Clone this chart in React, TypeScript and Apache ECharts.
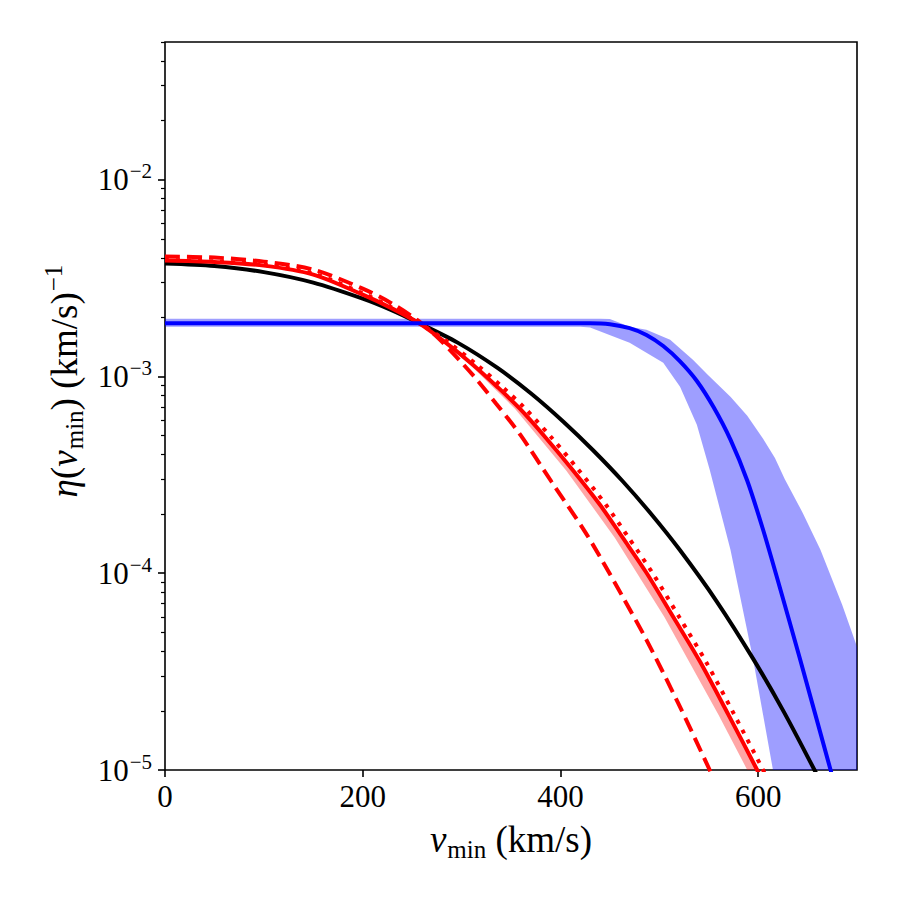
import React, { useEffect, useRef } from "react";
import * as echarts from "echarts";

// ---- axis ticks ----
const xTicks = [0, 200, 400, 600];
const yTicks = [1e-5, 1e-4, 1e-3, 1e-2];
const yMinorTicks = [
  2e-5, 3e-5, 4e-5, 5e-5, 6e-5, 7e-5, 8e-5, 9e-5,
  2e-4, 3e-4, 4e-4, 5e-4, 6e-4, 7e-4, 8e-4, 9e-4,
  2e-3, 3e-3, 4e-3, 5e-3, 6e-3, 7e-3, 8e-3, 9e-3,
  2e-2, 3e-2, 4e-2, 5e-2,
];

// ---- black solid ----
const blackV = [0, 50, 100, 150, 200, 228, 256, 296, 336, 370, 403, 433, 463, 492, 521, 558, 595, 626, 657, 670];
const blackEta = [3.741e-3, 3.633e-3, 3.386e-3, 2.995e-3, 2.483e-3, 2.183e-3, 1.875e-3, 1.484e-3, 1.107e-3, 8.21e-4, 5.885e-4, 4.215e-4, 2.932e-4, 1.993e-4, 1.307e-4, 7.2e-5, 3.671e-5, 1.974e-5, 1.0e-5, 7.47e-6];

// ---- red dashed ----
const redDashV = [0, 50, 100, 150, 200, 228, 256, 278, 312, 335, 359, 391, 423, 440, 463, 487, 519, 551, 565];
const redDashEta = [4.061e-3, 4.014e-3, 3.829e-3, 3.486e-3, 2.792e-3, 2.369e-3, 1.919e-3, 1.537e-3, 1.008e-3, 7.265e-4, 5.083e-4, 2.915e-4, 1.681e-4, 1.212e-4, 7.586e-5, 4.585e-5, 2.193e-5, 1.0e-5, 7.05e-6];

// ---- red solid ----
const redV = [0, 50, 100, 150, 200, 228, 256, 284, 312, 336, 359, 386, 413, 440, 463, 487, 514, 541, 570, 599, 612];
const redEta = [3.875e-3, 3.808e-3, 3.654e-3, 3.289e-3, 2.602e-3, 2.235e-3, 1.875e-3, 1.484e-3, 1.14e-3, 8.862e-4, 6.851e-4, 4.823e-4, 3.316e-4, 2.226e-4, 1.514e-4, 1.005e-4, 6.003e-5, 3.565e-5, 1.905e-5, 1.0e-5, 7.38e-6];

// ---- red dotted ----
const redDotV = [0, 50, 100, 150, 200, 228, 256, 287, 316, 341, 364.5, 392, 419, 446, 469, 493, 520, 547, 576, 605, 618];
const redDotEta = [3.9e-3, 3.84e-3, 3.69e-3, 3.33e-3, 2.64e-3, 2.26e-3, 1.88e-3, 1.484e-3, 1.14e-3, 8.862e-4, 6.851e-4, 4.823e-4, 3.316e-4, 2.226e-4, 1.514e-4, 1.005e-4, 6.003e-5, 3.565e-5, 1.905e-5, 1.0e-5, 7.38e-6];

// ---- red band ----
const redBandUpperV = [228, 256, 286, 314, 361, 415, 465, 516, 572, 601];
const redBandUpper = [2.235e-3, 1.875e-3, 1.484e-3, 1.14e-3, 6.851e-4, 3.316e-4, 1.514e-4, 6.003e-5, 1.905e-5, 1.0e-5];
const redBandLowerV = [228, 256, 282, 309, 354, 406, 455, 505, 560, 589];
const redBandLower = [2.235e-3, 1.875e-3, 1.484e-3, 1.14e-3, 6.851e-4, 3.316e-4, 1.514e-4, 6.003e-5, 1.905e-5, 1.0e-5];

// ---- blue solid ----
const blueV = [0, 200, 400, 430, 450, 470, 487, 504, 521, 538, 555, 572, 589, 605, 620, 642, 673, 685];
const blueEta = [1.864e-3, 1.864e-3, 1.864e-3, 1.864e-3, 1.842e-3, 1.758e-3, 1.624e-3, 1.426e-3, 1.192e-3, 9.476e-4, 6.964e-4, 4.768e-4, 2.949e-4, 1.662e-4, 9.15e-5, 3.715e-5, 1.012e-5, 6.12e-6];

// ---- blue band ----
const blueBandUpperV = [0, 440, 450, 470, 487, 511, 534, 549, 572, 589, 605, 617, 627, 645, 663, 685, 700];
const blueBandUpper = [1.965e-3, 1.965e-3, 1.955e-3, 1.789e-3, 1.727e-3, 1.537e-3, 1.216e-3, 1.02e-3, 7.88e-4, 6.3e-4, 4.82e-4, 3.85e-4, 3.0e-4, 2.03e-4, 1.315e-4, 6.91e-5, 4.224e-5];
const blueBandLowerV = [0, 420, 430, 470, 504, 521, 538, 551, 572, 595, 615, 700];
const blueBandLower = [1.789e-3, 1.789e-3, 1.769e-3, 1.484e-3, 1.173e-3, 8.862e-4, 5.68e-4, 3.355e-4, 1.315e-4, 3.63e-5, 1.0e-5, 1.0e-5];

const FONT = "'Liberation Serif', 'DejaVu Serif', serif";

const zip = (xs: number[], ys: number[]) => xs.map((x, i) => [x, ys[i]]);

function bandSeries(uV: number[], uY: number[], lV: number[], lY: number[], color: string, z: number) {
  return {
    type: "custom",
    coordinateSystem: "cartesian2d",
    xAxisIndex: 0,
    yAxisIndex: 0,
    data: [[uV[0], uY[0]]],
    clip: true,
    silent: true,
    z,
    renderItem: (_params: any, api: any) => {
      const pts: number[][] = [];
      for (let i = 0; i < uV.length; i++) pts.push(api.coord([uV[i], uY[i]]));
      for (let i = lV.length - 1; i >= 0; i--) pts.push(api.coord([lV[i], lY[i]]));
      return { type: "polygon", shape: { points: pts }, style: { fill: color, stroke: null } };
    },
  };
}

function lineSeries(xs: number[], ys: number[], color: string, type: any, z: number) {
  return {
    type: "line",
    data: zip(xs, ys),
    showSymbol: false,
    symbol: "none",
    smooth: 0.3,
    clip: true,
    z,
    lineStyle: { color, width: 4, type, cap: "butt" },
  };
}

export default function App() {
  const ref = useRef<HTMLDivElement>(null);
  useEffect(() => {
    document.body.style.margin = "0";
    const chart = echarts.init(ref.current!, null, { renderer: "svg" });
    const supFmt = (v: number) => `{b|10}{sup|−${Math.abs(Math.round(Math.log10(v)))}}`;
    chart.setOption({
      animation: false,
      backgroundColor: "#ffffff",
      grid: {
        left: 165,
        right: 43,
        top: 42,
        bottom: 130,
        show: true,
        borderColor: "#000",
        borderWidth: 1.6,
        backgroundColor: "transparent",
      },
      xAxis: {
        type: "value",
        min: 0,
        max: 700,
        interval: 200,
        axisLine: { show: false },
        splitLine: { show: false },
        axisTick: { show: true, inside: false, length: 7, customValues: xTicks, lineStyle: { color: "#000", width: 1.6 } },
        axisLabel: { customValues: xTicks, margin: 11, fontFamily: FONT, fontSize: 31, color: "#000" },
        name: "{i|v}{sub|min}{r| (km/s)}",
        nameLocation: "middle",
        nameGap: 47,
        nameTextStyle: {
          fontFamily: FONT,
          fontSize: 37,
          color: "#000",
          rich: {
            i: { fontFamily: FONT, fontSize: 37, fontStyle: "italic", color: "#000" },
            r: { fontFamily: FONT, fontSize: 37, color: "#000" },
            sub: { fontFamily: FONT, fontSize: 25, color: "#000", padding: [20, 0, 0, 1] },
          },
        },
      },
      yAxis: [
        {
          type: "log",
          logBase: 10,
          min: 1e-5,
          max: 5e-2,
          axisLine: { show: false },
          splitLine: { show: false },
          minorTick: { show: false },
          axisTick: { show: true, inside: false, length: 7, customValues: yTicks, lineStyle: { color: "#000", width: 1.6 } },
          axisLabel: {
            customValues: yTicks,
            margin: 13,
            formatter: supFmt,
            rich: {
              b: { fontFamily: FONT, fontSize: 31, color: "#000" },
              sup: { fontFamily: FONT, fontSize: 21, color: "#000", padding: [0, 0, 17, 1] },
            },
          },
          name: "{i|η}{r|(}{i|v}{sub|min}{r|) (km/s)}{sup|−1}",
          nameLocation: "middle",
          nameRotate: 90,
          nameGap: 70,
          nameTextStyle: {
            fontFamily: FONT,
            fontSize: 37,
            color: "#000",
            padding: [0, 0, 0, 50],
            rich: {
              i: { fontFamily: FONT, fontSize: 37, fontStyle: "italic", color: "#000" },
              r: { fontFamily: FONT, fontSize: 37, color: "#000" },
              sub: { fontFamily: FONT, fontSize: 25, color: "#000", padding: [20, 0, 0, 1] },
              sup: { fontFamily: FONT, fontSize: 25, color: "#000", padding: [0, 0, 21, 1] },
            },
          },
        },
        {
          type: "log",
          logBase: 10,
          min: 1e-5,
          max: 5e-2,
          position: "left",
          axisLine: { show: false },
          splitLine: { show: false },
          axisLabel: { show: false },
          axisTick: { show: true, inside: false, length: 4, customValues: yMinorTicks, lineStyle: { color: "#000", width: 1.2 } },
        },
      ],
      series: [
        bandSeries(blueBandUpperV, blueBandUpper, blueBandLowerV, blueBandLower, "rgba(0,0,255,0.38)", 1),
        bandSeries(redBandUpperV, redBandUpper, redBandLowerV, redBandLower, "rgba(255,0,0,0.35)", 1),
        lineSeries(blackV, blackEta, "#000000", "solid", 3),
        lineSeries(redV, redEta, "#ff0000", "solid", 4),
        lineSeries(redDotV, redDotEta, "#ff0000", [4, 7], 4),
        lineSeries(redDashV, redDashEta, "#ff0000", [15, 7], 5),
        lineSeries(blueV, blueEta, "#0000ff", "solid", 6),
      ],
    });
    return () => chart.dispose();
  }, []);
  return <div ref={ref} style={{ position: "absolute", left: 0, top: 0, width: 900, height: 900 }} />;
}
